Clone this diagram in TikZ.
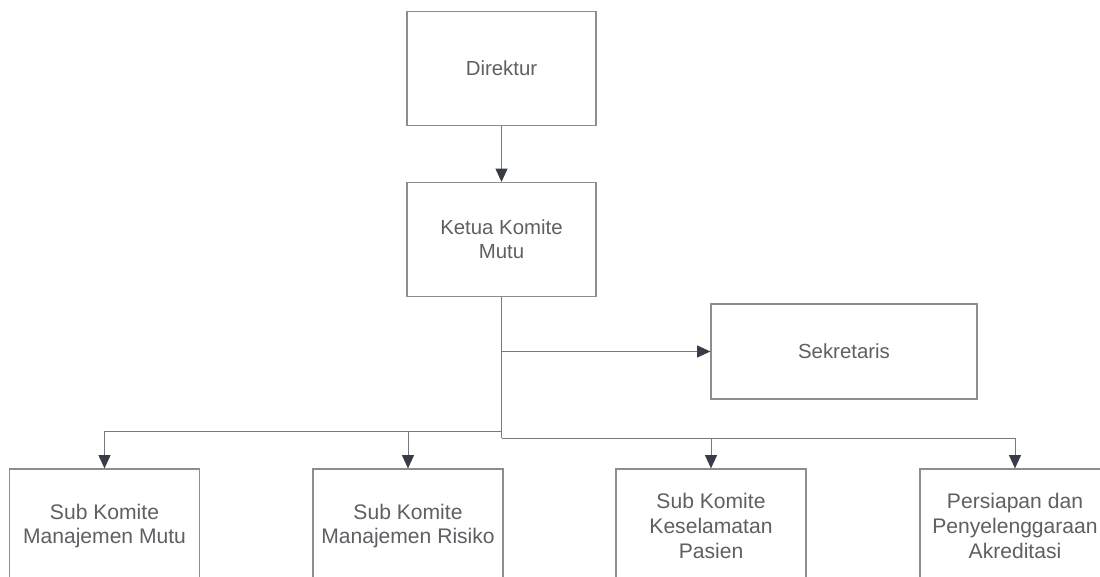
\documentclass[tikz,border=0pt]{standalone}
\usepackage{fontspec}
\setmainfont{Liberation Sans}
\usepackage{tikz}
\usetikzlibrary{arrows.meta, positioning, calc}
\definecolor{boxgray}{RGB}{140,140,145}
\definecolor{linegray}{RGB}{120,120,125}
\definecolor{tipdark}{RGB}{55,60,70}
\definecolor{txtgray}{RGB}{95,95,100}
\tikzset{
  block/.style={rectangle, draw=boxgray, line width=0.9pt, fill=white,
    align=center, inner sep=0pt, text=txtgray,
    font=\fontsize{14.5}{17}\selectfont},
  topbox/.style={block, minimum width=4.725cm, minimum height=2.85cm},
  subbox/.style={block, minimum width=4.75cm, minimum height=2.85cm,
    font=\fontsize{15}{17.5}\selectfont},
  arrow/.style={-{Triangle[length=0.33cm, width=0.3cm]}, line width=0.6pt,
    color=linegray, arrows={[color=tipdark]}},
  line/.style={line width=0.6pt, color=linegray}
}

\begin{document}
\begin{tikzpicture}[x=0.025cm, y=-0.025cm]
  \useasboundingbox (0,0) rectangle (1100,577);
  \clip (0,0) rectangle (1100,577);

  % Top boxes
  \node[topbox] (direktur) at (501.5,68.5) {Direktur};
  \node[topbox] (ketua) at (501.5,239.5) {Ketua Komite\\Mutu};
  \node[block, minimum width=6.65cm, minimum height=2.375cm] (sekretaris) at (844,351.5) {Sekretaris};

  % Sub committees
  \node[subbox] (mutu) at (104.5,526) {Sub Komite\\Manajemen Mutu};
  \node[subbox] (risiko) at (408,526) {Sub Komite\\Manajemen Risiko};
  \node[subbox] (pasien) at (711,526) {Sub Komite\\Keselamatan\\Pasien};
  \node[subbox] (akreditasi) at (1015,526) {Persiapan dan\\Penyelenggaraan\\Akreditasi};

  % Bus points
  \coordinate (lbus) at (ketua.south |- 0,431);
  \coordinate (rbus) at (ketua.south |- 0,438);

  % Connectors
  \draw[arrow] (direktur) -- (ketua);
  \draw[line] (ketua.south) -- (rbus);
  \draw[arrow] (ketua.south |- sekretaris.west) -- (sekretaris.west);
  \draw[arrow] (lbus) -| (mutu.north);
  \draw[arrow] (lbus -| risiko.north) -- (risiko.north);
  \draw[arrow] (rbus) -| (akreditasi.north);
  \draw[arrow] (rbus -| pasien.north) -- (pasien.north);
\end{tikzpicture}
\end{document}
